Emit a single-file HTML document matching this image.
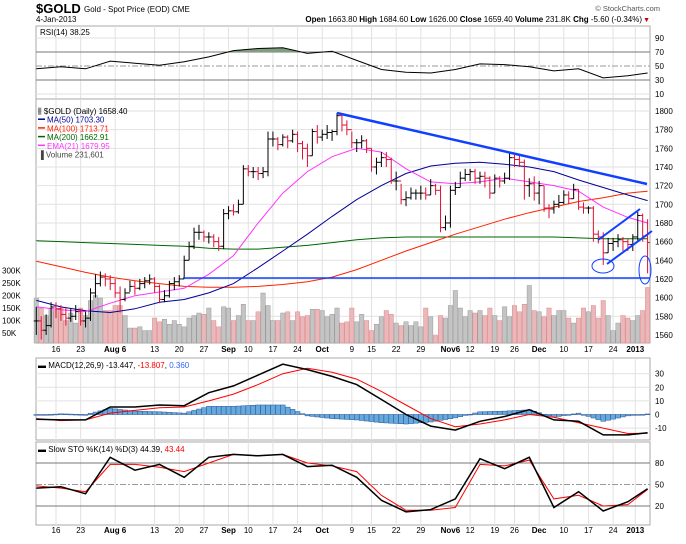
<!DOCTYPE html>
<html><head><meta charset="utf-8"><style>
body{margin:0;background:#fff;width:686px;height:539px;overflow:hidden;font-family:"Liberation Sans",sans-serif}
svg text{font-family:"Liberation Sans",sans-serif}
</style></head><body>
<svg id="c" width="686" height="539" xmlns="http://www.w3.org/2000/svg">
<text x="36" y="13" font-size="13" font-weight="bold">$GOLD</text>
<text x="84" y="12" font-size="8">Gold - Spot Price (EOD) CME</text>
<text x="36" y="22" font-size="8">4-Jan-2013</text>
<text x="642" y="22" font-size="8" text-anchor="end"><tspan font-weight="bold">Open</tspan> 1663.80 <tspan font-weight="bold">High</tspan> 1684.60 <tspan font-weight="bold">Low</tspan> 1626.00 <tspan font-weight="bold">Close</tspan> 1659.40 <tspan font-weight="bold">Volume</tspan> 231.8K <tspan font-weight="bold">Chg</tspan> -5.60 (-0.34%)</text>
<text x="650" y="22" font-size="7" fill="#c00" text-anchor="end">▼</text>
<text x="660" y="11" font-size="7.5" fill="#555" text-anchor="end">© StockCharts.com</text>
</svg>
<script>
const closes=[1575,1565,1570,1590,
1588,1582,1578,1580,1585, 1575,1578,1605,1615,1622, 1620,1615,1605,1598,1605, 1612,1610,1615,1618,1620,
1612,1598,1602,1615,1617, 1620,1640,1655,1670,1670, 1665,1665,1660,1655,1690, 1693,1692,1700,1738,
1735,1735,1733,1735,1770, 1770,1764,1772,1768,1775, 1765,1760,1752,1778,1772, 1775,1777,1778,1795,1785,
1780,1766,1766,1768,1760, 1740,1745,1750,1748,1725, 1725,1705,1707,1712,1712, 1712,1710,1720,1715,1675,
1680,1715,1718,1728,1732, 1735,1728,1730,1728,1712, 1728,1725,1728,1750, 1748,1745,1720,1722,1712,
1720,1696,1695,1700,1702, 1710,1706,1716,1697,1696, 1696,1668,1665,1648,1658, 1660,1662,1660,1657, 1665,1688,1666,1659];
const highs=[1590,1580,1582,1595,
1595,1592,1590,1588,1592, 1588,1585,1610,1625,1628, 1626,1624,1620,1612,1610, 1618,1618,1620,1622,1625,
1622,1614,1608,1618,1622, 1624,1645,1660,1675,1678, 1672,1670,1668,1665,1695, 1698,1700,1705,1742,
1742,1740,1740,1740,1778, 1778,1772,1775,1774,1780, 1778,1768,1765,1781,1785, 1780,1785,1780,1798,1797,
1790,1778,1770,1774,1770, 1760,1750,1756,1756,1750, 1735,1722,1714,1718,1716, 1720,1718,1727,1722,1720,
1688,1720,1724,1735,1738, 1738,1738,1735,1735,1730, 1732,1730,1734,1755, 1755,1752,1748,1728,1730,
1725,1720,1700,1704,1710, 1715,1714,1722,1716,1702, 1698,1698,1672,1670,1664, 1664,1668,1665,1663, 1668,1692,1690,1684];
const lows=[1560,1555,1560,1568,
1578,1575,1570,1574,1576, 1570,1568,1575,1600,1612, 1612,1608,1600,1584,1596, 1606,1603,1608,1610,1614,
1605,1594,1595,1600,1608, 1612,1620,1640,1652,1662, 1660,1658,1654,1650,1652, 1684,1688,1690,1700,
1730,1728,1726,1728,1730, 1762,1758,1762,1760,1766, 1756,1748,1740,1752,1765, 1768,1770,1768,1774,1778,
1774,1760,1756,1760,1755, 1735,1732,1740,1740,1722, 1715,1700,1698,1705,1705, 1705,1705,1710,1710,1670,
1672,1675,1710,1718,1725, 1725,1722,1722,1718,1706, 1712,1718,1722,1726, 1740,1740,1705,1708,1704,
1700,1692,1685,1690,1696, 1700,1700,1706,1694,1690, 1690,1660,1658,1635,1648, 1650,1654,1650,1650, 1650,1660,1660,1626];
const volumesK=[190,150,120,150,
140,150,100,130,90, 150,120,180,200,190, 140,140,160,160,120, 70,70,75,60,60,
110,95,105,85,100, 85,75,110,120,130, 125,150,100,75,155, 150,100,120,165,
100,100,135,210,160, 100,100,130,135,100, 135,115,120,145,145, 140,115,125,150,90,
95,150,95,125,100, 60,85,115,140,125, 90,80,95,80,95, 75,150,115,40,120,
110,160,220,150,115, 140,130,140,120,150, 120,100,155,115, 160,135,165,240,140,
135,115,150,120,140, 140,110,90,110,150, 135,160,110,180,120, 60,90,120,110, 100,120,140,232];
const sampleDays=[0,5,10,15,20,25,30,35,40,45,50,55,60,65,70,75,80,85,90,95,100,105,110,115,120,124];
const ma50=[1597,1590,1586,1584,1588,1595,1598,1605,1615,1632,1650,1668,1687,1705,1720,1733,1741,1744,1745,1743,1740,1735,1726,1718,1710,1704];
const ma100=[1639,1633,1627,1622,1618,1615,1612,1611,1611,1612,1614,1617,1622,1630,1640,1650,1659,1668,1676,1684,1691,1697,1703,1707,1712,1714];
const ma200=[1661,1660,1659,1658,1657,1656,1655,1653,1652,1652,1654,1656,1659,1662,1664,1665,1665,1665,1665,1665,1665,1665,1664,1663,1663,1663];
const ema21=[1590,1587,1585,1594,1602,1606,1610,1625,1645,1680,1712,1735,1751,1760,1756,1738,1724,1722,1724,1728,1724,1720,1714,1697,1686,1680];
const rsi=[46,49,46,57,54,51,56,63,72,75,76,68,71,58,45,41,40,45,53,52,49,43,46,33,36,40];
const macd=[-3.5,-4,-4,5.5,5.5,7,6.5,16,21,29,37,33,28,22,11,0,-8.5,-11.5,-5,-1.5,3.5,-4,-5,-15,-15,-13.4];
const signal=[-3,-4.5,-4,1,3,5,5.5,10,15,22,30,34,31,26,17,7,-3,-9,-7,-4,0,-2,-6,-10,-14,-13.8];
const stoK=[45,47,37,88,70,78,60,88,92,90,92,75,77,60,28,12,15,30,86,72,88,18,40,13,26,44];
const stoD=[48,45,40,78,78,74,68,80,92,90,92,80,76,68,35,14,14,18,78,76,84,30,35,20,22,43];
const priceTicks=[1800,1780,1760,1740,1720,1700,1680,1660,1640,1620,1600,1580,1560];
const volTicks=[300,250,200,150,100,50];
const rsiTicks=[90,70,50,30,10];
const macdTicks=[30,20,10,0,-10];
const stoTicks=[80,50,20];
const dateLabels=[["16",4],["23",9],["Aug 6",16],["13",24],["20",29],["27",34],["Sep",39],["10",43],["17",48],["24",53],["Oct",58],["9",64],["15",68],["22",73],["29",78],["Nov6",84],["12",88],["19",93],["26",97],["Dec",102],["10",107],["17",112],["24",117],["2013",121.5]];

const svg=document.getElementById('c');const NS='http://www.w3.org/2000/svg';
const L=36,R=650;
function X(i){return 56+(i-4)*4.93;}
function yP(p){return 111+(1800-p)*0.933;}
function yV(v){return 345.6-v*0.2504;}
function yR(v){return 38+(90-v)*0.7;}
function yM(v){return 414.5-v*1.36;}
function yS(v){return 463+(80-v)*0.717;}
function el(t,a,parent){const e=document.createElementNS(NS,t);for(const k in a)e.setAttribute(k,a[k]);(parent||svg).appendChild(e);return e;}
function txt(s,x,y,a){const e=el('text',Object.assign({x:x,y:y,'font-size':8},a||{}));e.textContent=s;return e;}
function pathFrom(vals,fy){return sampleDays.map((d,k)=>(k?'L':'M')+X(d).toFixed(1)+','+fy(vals[k]).toFixed(1)).join('');}

const panels=[[26,99,'rsi-panel'],[99,343,'price-panel'],[358,440,'macd-panel'],[442,525,'sto-panel']];
panels.forEach(p=>{
  const g=el('rect',{x:L,y:p[0],width:R-L,height:p[1]-p[0],fill:'#fff',stroke:'#aaa'});
  
  
  for(let k=0;k<dateLabels.length;k++){const x=X(dateLabels[k][1]);el('line',{x1:x,x2:x,y1:p[0],y2:p[1],stroke:'#e2e2e2'});}
});
// horizontal grids
priceTicks.forEach(t=>{el('line',{x1:L,x2:R,y1:yP(t),y2:yP(t),stroke:'#e2e2e2'});
  const e=txt(String(t),655,yP(t)+3);});
volTicks.forEach(t=>{const e=txt(t+'K',2,yV(t)+3);});
rsiTicks.forEach(t=>{el('line',{x1:L,x2:R,y1:yR(t),y2:yR(t),stroke:(t==70||t==30)?'#777':(t==50?'#999':'#e2e2e2'),'stroke-dasharray':t==50?'6,2,2,2':'none'});
  const e=txt(String(t),655,yR(t)+3);});
macdTicks.forEach(t=>{el('line',{x1:L,x2:R,y1:yM(t),y2:yM(t),stroke:'#e2e2e2'});
  const e=txt(String(t),655,yM(t)+3);});
stoTicks.forEach(t=>{el('line',{x1:L,x2:R,y1:yS(t),y2:yS(t),stroke:t==50?'#999':'#777','stroke-dasharray':t==50?'6,2,2,2':'none'});
  const e=txt(String(t),655,yS(t)+3);});
// date labels
[352,533].forEach(y=>dateLabels.forEach(d=>{const e=txt(d[0],X(d[1]),y,{'text-anchor':'middle','font-weight':/[A-Za-z]|2013/.test(d[0])?'bold':'normal'});
  }));

// RSI
const rp=pathFrom(rsi,yR);
const clipR=el('clipPath',{id:'rc'});el('rect',{x:L,y:0,width:R-L,height:yR(70)},clipR);
const rf=el('path',{d:rp+'L'+X(124)+','+yR(70)+'L'+X(0)+','+yR(70)+'Z',fill:'#7f9f7f',stroke:'none','clip-path':'url(#rc)'});

const rl=el('path',{d:rp,fill:'none',stroke:'#000','stroke-width':1});

const rt=txt('RSI(14) 38.25',40,35);

// volume
volumesK.forEach((v,i)=>{const dn=i>0&&closes[i]<closes[i-1];
  const b=el('rect',{x:X(i)-2.2,y:yV(v),width:4.4,height:343-yV(v),fill:dn?'#eab8bb':'#c4c4c4',stroke:dn?'#d88':'#999','stroke-width':0.5});
  });
// MAs
[[ma200,'#006600','ma200-line'],[ma100,'#ff2200','ma100-line'],[ma50,'#000099','ma50-line'],[ema21,'#ff33ff','ema21-line']].forEach(m=>{
  const p=el('path',{d:pathFrom(m[0],yP),fill:'none',stroke:m[1],'stroke-width':1});
  });
// price bars
closes.forEach((c,i)=>{const dn=i>0&&c<closes[i-1];const col=dn?'#dd1133':'#000';const x=X(i);const o=i>0?closes[i-1]:c;
  const g=el('g',{stroke:col,'stroke-width':1});
  
  el('line',{x1:x,x2:x,y1:yP(highs[i]),y2:yP(lows[i])},g);
  el('line',{x1:x-2.5,x2:x,y1:yP(o),y2:yP(o)},g);
  el('line',{x1:x,x2:x+2.5,y1:yP(c),y2:yP(c)},g);});
// annotations
const ann=[['support-line',183,278,650,278,1.5],['downtrend-line',337,113,647,184,2.5],['channel-top',598,240,640,209,2],['channel-bottom',607,264,652,231,2]];
ann.forEach(a=>{const l=el('line',{x1:a[1],y1:a[2],x2:a[3],y2:a[4],stroke:'#1040ff','stroke-width':a[5]});
  });
const e1=el('ellipse',{cx:603,cy:266,rx:11,ry:7,fill:'none',stroke:'#1040ff'});
const e2=el('ellipse',{cx:645,cy:270,rx:6,ry:14,fill:'none',stroke:'#1040ff'});
// legend
const lg=[['$GOLD (Daily) 1658.40','#000'],['MA(50) 1703.30','#000099'],['MA(100) 1713.71','#ff2200'],['MA(200) 1662.91','#006600'],['EMA(21) 1679.95','#ff33ff'],['Volume 231,601','#444']];
lg.forEach((g,k)=>{const y=113+k*8.7;
  if(k>0&&k<5)el('line',{x1:38,x2:45,y1:y-2.5,y2:y-2.5,stroke:g[1],'stroke-width':1.5});
  const t=txt(k==0?'\u2AFC '+g[0]:(k==5?'\u2590 '+g[0]:g[0]),k==0||k==5?38:47,y+1,{fill:g[1]});
  });

// MACD
for(let k=0;k<sampleDays.length-1;k++){for(let d=sampleDays[k];d<sampleDays[k+1]+(k==sampleDays.length-2?1:0);d++){
  const f=(d-sampleDays[k])/(sampleDays[k+1]-sampleDays[k]);
  const h=(macd[k]-signal[k])*(1-f)+(macd[k+1]-signal[k+1])*f;
  const y0=yM(0),y1=yM(h);
  const b=el('rect',{x:X(d)-2.4,y:Math.min(y0,y1),width:4.8,height:Math.max(0.8,Math.abs(y1-y0)),fill:'#66aadd',stroke:'#2a5599','stroke-width':0.5});
  }}
const sl=el('path',{d:pathFrom(signal,yM),fill:'none',stroke:'#ff0000','stroke-width':1});
const ml=el('path',{d:pathFrom(macd,yM),fill:'none',stroke:'#000','stroke-width':1.5});
const mt=el('text',{x:38,y:368,'font-size':8});mt.innerHTML='<tspan>\u25AC MACD(12,26,9) -13.447, </tspan><tspan fill="#f00">-13.807</tspan><tspan>, </tspan><tspan fill="#3366ff">0.360</tspan>';


// STO
const dl=el('path',{d:pathFrom(stoD,yS),fill:'none',stroke:'#ff0000','stroke-width':1});
const kl=el('path',{d:pathFrom(stoK,yS),fill:'none',stroke:'#000','stroke-width':1.5});
const st=el('text',{x:38,y:452,'font-size':8});st.innerHTML='<tspan>\u25AC Slow STO %K(14) %D(3) 44.39, </tspan><tspan fill="#f00">43.44</tspan>';

</script>
</body></html>
